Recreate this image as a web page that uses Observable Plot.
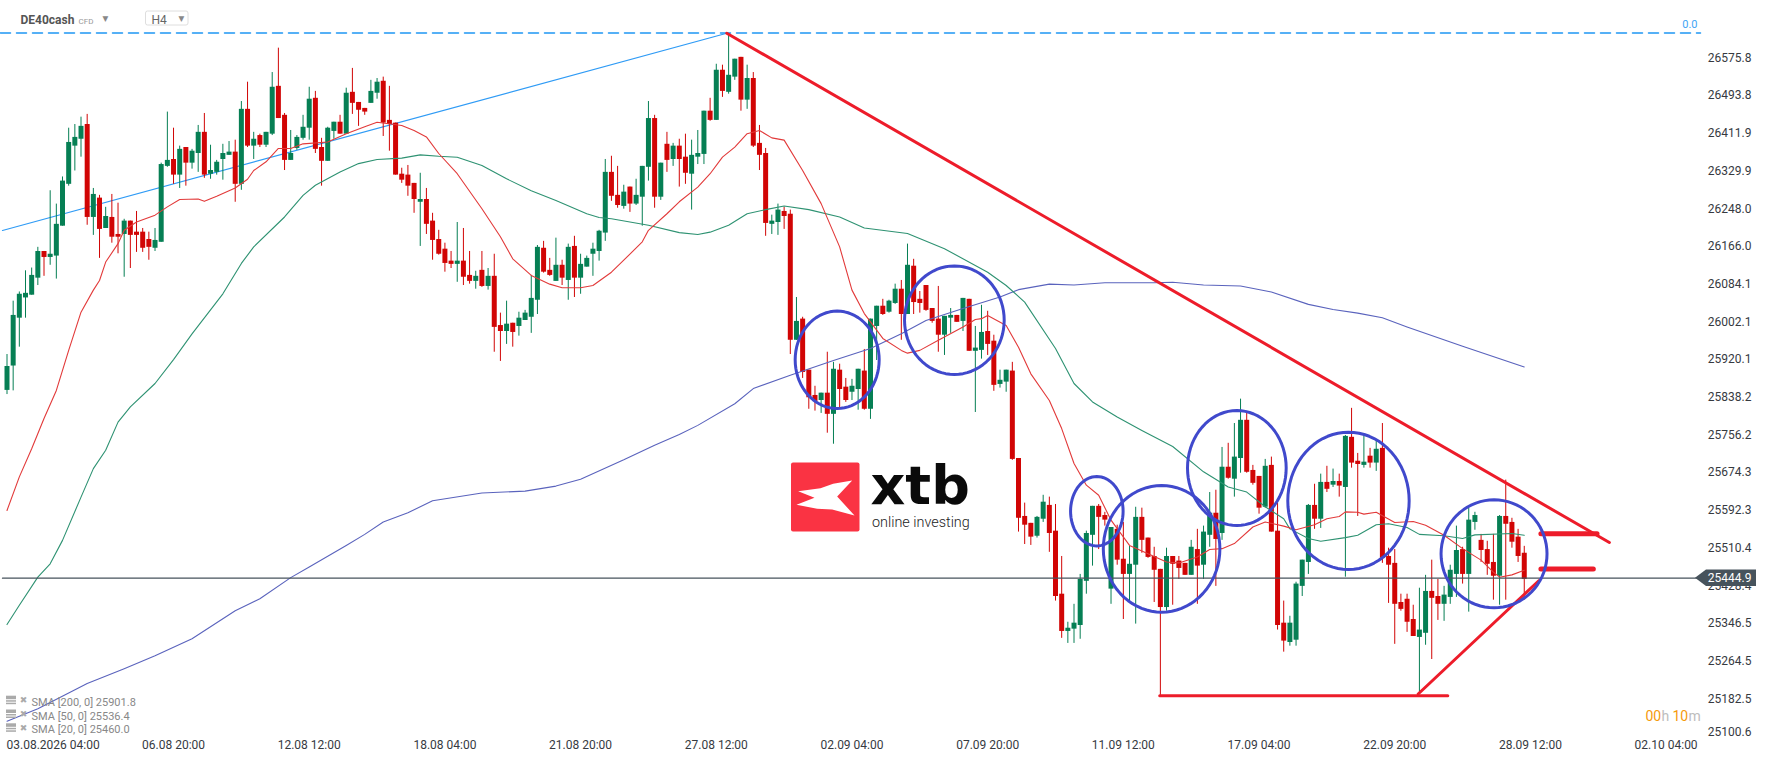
<!DOCTYPE html>
<html><head><meta charset="utf-8">
<script src="https://cdn.jsdelivr.net/npm/d3@7"></script>
<script src="https://cdn.jsdelivr.net/npm/@observablehq/plot@0.6"></script>
<style>html,body{margin:0;padding:0;background:#fff;overflow:hidden}svg{display:block}</style>
</head><body><div id="chart"></div>
<script>
const opens=[25853,25906,26010,26054,26060,26097,26155,26142,26145,26210,
26301,26384,26399,26431,26229,26271,26205,26229,26192,26192,
26221,26197,26197,26181,26162,26175,26340,26355,26321,26381,
26347,26368,26414,26323,26327,26355,26364,26371,26301,26464,
26384,26407,26386,26410,26514,26451,26353,26379,26401,26423,
26488,26381,26351,26416,26436,26410,26501,26479,26466,26477,
26499,26525,26440,26434,26323,26321,26303,26262,26268,26221,
26181,26160,26134,26127,26134,26103,26090,26114,26079,26101,
25994,25981,25999,25992,26005,26012,26049,26162,26114,26090,
26125,26092,26166,26097,26121,26149,26155,26195,26327,26277,
26253,26295,26258,26273,26338,26444,26273,26388,26355,26384,
26360,26323,26360,26366,26460,26440,26549,26501,26534,26577,
26484,26531,26390,26368,26214,26218,26242,26236,25962,26008,
25897,25842,25831,25847,25801,25897,25860,25849,25855,25895,
25812,25992,26036,26023,26042,26073,26018,26123,26051,26081,
26031,26008,25973,26010,26016,26003,26051,25938,25940,25981,
25960,25866,25871,25895,25705,25579,25564,25536,25573,25603,
25547,25410,25329,25334,25342,25438,25538,25601,25581,25421,
25551,25486,25453,25473,25577,25532,25492,25464,25381,25492,
25482,25477,25451,25507,25473,25538,25586,25542,25686,25660,
25705,25788,25679,25666,25599,25690,25547,25347,25305,25310,
25427,25479,25603,25573,25653,25647,25655,25642,25751,25699,
25690,25710,25695,25727,25492,25477,25392,25399,25355,25316,
25325,25416,25405,25388,25403,25453,25507,25453,25566,25527,
25507,25479,25449,25579,25566,25534,25499];
const highs=[25931,26047,26067,26113,26119,26164,26155,26287,26258,26317,
26423,26431,26447,26453,26292,26277,26251,26279,26260,26225,
26221,26242,26205,26197,26205,26347,26458,26423,26384,26381,
26377,26429,26455,26386,26353,26388,26394,26397,26481,26523,
26414,26410,26414,26544,26597,26455,26418,26407,26451,26512,
26503,26401,26425,26436,26451,26510,26553,26479,26466,26527,
26531,26534,26514,26434,26336,26342,26303,26325,26292,26238,
26201,26173,26155,26218,26205,26155,26112,26155,26118,26149,
26021,26047,25999,26023,26027,26103,26168,26177,26140,26184,
26136,26171,26188,26149,26145,26173,26201,26355,26362,26340,
26299,26295,26312,26340,26481,26451,26347,26414,26390,26399,
26410,26397,26418,26460,26488,26562,26560,26629,26573,26577,
26560,26544,26429,26379,26234,26258,26251,26245,26055,26012,
25897,25862,25847,25936,25914,25910,25879,25877,25899,25942,
26008,26036,26051,26049,26084,26092,26171,26138,26068,26081,
26031,26079,26014,26031,26016,26053,26051,25992,26038,26025,
25973,25897,25897,25914,25705,25608,25564,25579,25625,25621,
25605,25492,25349,25388,25453,25547,25601,25605,25588,25555,
25560,25566,25514,25599,25597,25532,25512,25464,25510,25492,
25492,25477,25527,25551,25558,25631,25636,25729,25738,25781,
25834,25805,25690,25666,25703,25708,25608,25395,25362,25436,
25484,25605,25649,25671,25688,25682,25671,25755,25814,25716,
25757,25727,25745,25781,25510,25507,25410,25410,25386,25423,
25451,25484,25442,25427,25473,25558,25512,25597,25588,25540,
25525,25540,25581,25658,25575,25551,25514];
const lows=[25844,25852,25947,26010,26060,26081,26101,26125,26095,26210,
26297,26330,26360,26212,26190,26140,26205,26173,26150,26099,
26118,26153,26153,26136,26155,26175,26338,26301,26292,26297,
26334,26327,26314,26312,26321,26310,26364,26262,26288,26381,
26355,26381,26381,26407,26444,26331,26353,26375,26397,26397,
26368,26297,26351,26399,26410,26410,26453,26427,26451,26477,
26486,26405,26373,26321,26303,26275,26238,26166,26192,26136,
26147,26110,26118,26088,26081,26084,26073,26077,26071,25936,
25916,25953,25947,25971,26005,25977,26018,26108,26101,26090,
26081,26049,26055,26062,26121,26101,26134,26177,26264,26249,
26247,26240,26255,26210,26308,26249,26266,26327,26340,26295,
26301,26245,26344,26344,26438,26440,26490,26497,26527,26460,
26464,26381,26331,26188,26192,26190,26203,25931,25962,25879,
25812,25808,25803,25760,25736,25814,25827,25831,25810,25810,
25790,25918,26016,26021,26040,25962,26018,26018,26021,26025,
25999,25936,25929,25977,26001,25981,25938,25805,25921,25929,
25851,25858,25849,25701,25545,25518,25516,25532,25566,25501,
25395,25314,25303,25303,25312,25410,25471,25507,25558,25388,
25473,25355,25390,25345,25499,25488,25392,25190,25373,25386,
25442,25451,25451,25388,25442,25512,25427,25527,25660,25621,
25673,25673,25647,25584,25597,25545,25332,25284,25297,25297,
25405,25453,25551,25553,25631,25642,25621,25447,25684,25579,
25684,25684,25677,25477,25390,25301,25373,25327,25318,25197,
25299,25268,25353,25351,25388,25403,25432,25371,25549,25479,
25451,25397,25386,25397,25510,25479,25397];
const closes=[25905,26016,26062,26064,26103,26155,26142,26149,26214,26308,
26392,26403,26427,26229,26279,26203,26231,26186,26186,26221,
26190,26190,26162,26164,26179,26344,26353,26321,26377,26347,
26373,26414,26321,26331,26349,26368,26371,26301,26464,26384,
26399,26386,26414,26512,26444,26353,26368,26403,26425,26486,
26377,26351,26423,26436,26410,26499,26477,26462,26458,26503,
26523,26434,26431,26321,26310,26297,26268,26268,26214,26179,
26149,26129,26127,26134,26099,26090,26101,26079,26101,25990,
25981,25997,25979,26010,26021,26053,26164,26110,26103,26125,
26097,26164,26097,26127,26140,26160,26199,26327,26275,26255,
26284,26258,26277,26340,26444,26273,26347,26353,26384,26355,
26325,26364,26368,26460,26440,26549,26503,26538,26573,26484,
26531,26384,26364,26216,26221,26245,26231,25962,26003,25892,
25837,25829,25847,25801,25899,25855,25831,25862,25899,25812,
26008,26036,26018,26047,26073,26018,26125,26044,26042,26027,
26003,25973,26014,26016,26001,26053,25938,25945,25979,25953,
25864,25875,25897,25703,25575,25560,25534,25577,25610,25542,
25405,25329,25336,25347,25442,25542,25601,25577,25571,25555,
25484,25453,25475,25577,25527,25490,25462,25381,25492,25475,
25466,25451,25512,25471,25545,25586,25529,25686,25662,25708,
25788,25675,25651,25597,25688,25545,25342,25308,25347,25432,
25484,25603,25573,25653,25638,25655,25645,25753,25695,25692,
25697,25695,25725,25488,25473,25388,25377,25349,25318,25332,
25416,25401,25388,25408,25462,25505,25453,25571,25581,25505,
25475,25449,25579,25562,25523,25492,25442];

const sma20Index=[0,2,4,6,8,10,12,14,15,16,18,19,21,24,26,28,31,32,34,37,39,40,42,44,46,48,52,55,58,60,64,66,68,70,73,77,80,82,85,88,90,93,95,98,100,103,104,107,109,112,114,116,118,120,122,124,126,129,132,135,137,139,142,145,146,148,151,155,157,158,159,162,164,166,169,171,173,175,177,179,182,185,188,190,193,195,197,199,202,204,207,209,212,214,216,217,219,220,222,225,228,230,233,236,239,241,242,244,246];
const sma20Value=[25592,25665,25726,25792,25853,25940,26023,26071,26092,26132,26172,26201,26219,26234,26252,26268,26269,26264,26275,26293,26312,26331,26350,26379,26379,26389,26393,26411,26426,26436,26429,26418,26404,26368,26324,26248,26187,26139,26103,26084,26076,26076,26081,26110,26136,26176,26201,26237,26263,26295,26324,26360,26382,26411,26418,26402,26397,26331,26259,26165,26071,26020,25966,25940,25934,25940,25962,25991,26007,26009,26016,25994,25947,25889,25831,25770,25694,25647,25625,25571,25516,25498,25480,25478,25491,25507,25509,25520,25556,25567,25558,25550,25561,25574,25579,25589,25588,25584,25588,25566,25568,25560,25538,25509,25484,25458,25447,25452,25462];
const sma50Index=[0,2,5,7,9,12,14,16,18,20,24,27,30,35,38,40,45,48,50,54,57,60,64,67,70,73,77,81,85,89,94,96,98,104,109,112,114,117,120,123,126,130,135,139,146,152,159,162,165,170,173,176,180,184,189,194,198,201,204,207,208,211,213,217,219,222,224,227,229,233,236,238,244,246];
const sma50Value=[25344,25386,25447,25476,25527,25621,25683,25723,25784,25817,25868,25920,25976,26063,26129,26165,26230,26277,26299,26328,26346,26355,26358,26365,26362,26360,26342,26313,26287,26266,26237,26229,26226,26212,26196,26192,26197,26212,26237,26246,26254,26246,26230,26206,26194,26161,26110,26081,26045,25944,25868,25828,25795,25766,25731,25676,25643,25632,25600,25574,25552,25531,25525,25533,25538,25561,25563,25555,25540,25537,25531,25539,25542,25538];
const sma200Index=[0,5,10,13,19,24,30,37,41,46,49,55,58,61,65,69,77,84,89,93,100,105,109,112,118,121,127,134,140,145,149,155,161,164,169,173,178,186,189,194,200,205,211,215,219,223,227,236,246];
const sma200Value=[25134,25161,25195,25216,25248,25276,25313,25374,25400,25446,25469,25516,25540,25567,25587,25613,25630,25634,25645,25660,25702,25734,25757,25777,25824,25857,25886,25918,25944,25976,26005,26031,26056,26072,26084,26082,26087,26087,26088,26082,26080,26067,26040,26029,26021,26011,25991,25949,25904];

const priceTicks=[26575.8,26493.8,26411.9,26329.9,26248.0,26166.0,26084.1,26002.1,25920.1,25838.2,25756.2,25674.3,25592.3,25510.4,25428.4,25346.5,25264.5,25182.5];
const lowestTickLabel="25100.6";
const timeTicks=[5,27,49,71,93,115,137,159,181,203,225,247,269];
const timeLabels=["03.08.2026 04:00","06.08 20:00","12.08 12:00","18.08 04:00","21.08 20:00","27.08 12:00","02.09 04:00","07.09 20:00","11.09 12:00","17.09 04:00","22.09 20:00","28.09 12:00","02.10 04:00"];
const currentPrice=25444.9, fibLevel=26630;
const legendLabels=["SMA [200, 0] 25901.8","SMA [50, 0] 25536.4","SMA [20, 0] 25460.0"];

const ellipseIndex=[134.6,153.6,176.7,187.2,199.4,217.5,241.1];
const ellipseIndexRadius=[6.81,8.08,4.26,9.45,8,9.84,8.59];
const ellipsePrice=[25919.5,26005.6,25590.4,25508.6,25684.3,25613,25497.8];
const ellipsePriceRadius=[105.9,118,75.4,137.6,125,149.3,117.4];

const W=1768,H=761,xDomain=[-1.054,285.6],yDomain=[25046.3,26700.6];
const X=d3.scaleLinear([0,W],xDomain), Y=d3.scaleLinear([H,0],yDomain);

const candles=opens.map((o,i)=>({i,o,h:highs[i],l:lows[i],c:closes[i]}));
const series=(xs,ys)=>xs.map((x,k)=>({x,y:ys[k]}));
const angles=d3.range(0,360,5).map(d=>d*Math.PI/180);
const ellipses=ellipseIndex.flatMap((c,e)=>angles.map(a=>({e,x:c+ellipseIndexRadius[e]*Math.cos(a),y:ellipsePrice[e]+ellipsePriceRadius[e]*Math.sin(a)})));

const GREEN="#067f54",RED="#d10505",TREND="#ed1c2a",CIRCLE="#4049cc",TXT="#363a3f",DARK="#47535c";
const seg=(x1,y1,x2,y2,sw,stroke=TREND)=>Plot.line([{x:x1,y:y1},{x:x2,y:y2}],{x:"x",y:"y",stroke,strokeWidth:sw});
const label=(px,py,text,opt={})=>Plot.text([text],{x:X(px),y:Y(py),text:d=>d,fontSize:12,fill:TXT,...opt});
const box=(x1,y1,x2,y2,fill)=>Plot.rect([0],{x1:X(x1),x2:X(x2),y1:Y(y1),y2:Y(y2),fill});

const logoX=[83,150,188,245,200,252,185,140,78,132], logoY=[152,143,130,120,168,225,207,205,193,172];
const logoPts=logoX.map((x,k)=>({x:X(770+x/3),y:Y(440+logoY[k]/3)}));

const marks=[
  Plot.line([{x:X(0),y:fibLevel},{x:X(1700),y:fibLevel}],{x:"x",y:"y",stroke:"#1e96f3",strokeWidth:1.5,strokeDasharray:"10,6"}),
  seg(-0.73,26200.6,116.7,26629.5,1.2,"#2f9bf5"),
  Plot.ruleX(candles,{x:"i",y1:"l",y2:"h",stroke:d=>d.c>=d.o?GREEN:RED,strokeWidth:1}),
  Plot.ruleX(candles,{x:"i",y1:d=>Math.min(d.o,d.c),y2:d=>Math.max(d.o,d.c),stroke:d=>d.c>=d.o?GREEN:RED,strokeWidth:5}),
  Plot.line(series(sma200Index,sma200Value),{x:"x",y:"y",stroke:"#5a63bd",strokeWidth:1.1}),
  Plot.line(series(sma50Index,sma50Value),{x:"x",y:"y",stroke:"#2e9272",strokeWidth:1.1}),
  Plot.line(series(sma20Index,sma20Value),{x:"x",y:"y",stroke:"#e23a3a",strokeWidth:1.1}),
  Plot.line([{x:X(2),y:currentPrice},{x:X(1700),y:currentPrice}],{x:"x",y:"y",stroke:DARK,strokeWidth:1.3}),
  seg(116.7,26629.5,259.8,25522.3,3),
  seg(186.9,25189.3,233.6,25189.3,3),
  seg(228.8,25193,248.4,25439.7,3),
  seg(248.7,25541.2,257.8,25541.2,5),
  seg(248.7,25465,257.2,25465,5),
  Plot.line(ellipses,{x:"x",y:"y",z:"e",stroke:CIRCLE,strokeWidth:3,curve:"linear-closed"}),
  Plot.rect([0],{x1:X(791),x2:X(859.5),y1:Y(462.5),y2:Y(531.5),fill:"#fa3343",r:2}),
  Plot.line(logoPts,{x:"x",y:"y",fill:"#fff",stroke:"none",curve:"linear-closed"}),
  label(870,486,"xtb",{fontSize:54,fontWeight:700,fill:"#0a0a0a",textAnchor:"start",fontFamily:"DejaVu Sans"}),
  label(871.5,521.5,"online investing",{fontSize:14.4,fontWeight:300,fill:"#222",textAnchor:"start"}),
  Plot.text(priceTicks,{x:X(1751),y:d=>d,text:d=>d.toFixed(1),fontSize:12,fill:TXT,textAnchor:"end"}),
  label(1751,731.7,lowestTickLabel,{textAnchor:"end"}),
  Plot.areaY([{x:X(1695),a:currentPrice,b:currentPrice},{x:X(1706),a:Y(569.5),b:Y(586)},{x:X(1756),a:Y(569.5),b:Y(586)}],{x:"x",y1:"a",y2:"b",fill:DARK}),
  Plot.text([currentPrice],{x:X(1751),y:d=>d,text:d=>d.toFixed(1),fontSize:12,fill:"#fff",textAnchor:"end"}),
  label(1697,24,"0.0",{fontSize:11,fill:"#42a5f5",textAnchor:"end"}),
  Plot.text(timeTicks.slice(1),{x:d=>d,y:Y(744.3),text:(d,k)=>timeLabels[k+1],fontSize:12,fill:TXT}),
  label(6,744.3,timeLabels[0],{textAnchor:"start"}),
  label(1645,716,"00",{fontSize:14,fill:"#f59a0c",textAnchor:"start"}),
  label(1661,716,"h",{fontSize:14,fill:"#bdbdbd",textAnchor:"start"}),
  label(1672,716,"10",{fontSize:14,fill:"#f59a0c",textAnchor:"start"}),
  label(1688,716,"m",{fontSize:14,fill:"#bdbdbd",textAnchor:"start"}),
  ...legendLabels.flatMap((t,k)=>{const py=701.7+k*13.8;return [
    label(31,py,t,{fontSize:11,fill:"#888",textAnchor:"start"}),
    box(6,py-6,16,py-2.5,"#aaa"),
    box(6,py-1.5,16,py,"#aaa"),
    box(6,py+1,16,py+2.5,"#aaa"),
    label(23,py-2,"✖",{fontSize:9,fill:"#aaa",fontFamily:"DejaVu Sans"})];}),
  label(20,19.5,"DE40cash",{fontSize:12,fontWeight:700,fill:"#555",textAnchor:"start"}),
  label(78,20.5,"CFD",{fontSize:8,fill:"#999",textAnchor:"start"}),
  label(105,18,"▼",{fontSize:7.5,fill:"#888",fontFamily:"DejaVu Sans"}),
  Plot.rect([0],{x1:X(145.5),x2:X(188),y1:Y(25),y2:Y(11),fill:"none",stroke:"#dedede",r:2}),
  label(151,20,"H4",{fontSize:12,fill:"#666",textAnchor:"start"}),
  label(181,18,"▼",{fontSize:7.5,fill:"#888",fontFamily:"DejaVu Sans"})
];

document.getElementById("chart").append(Plot.plot({
  width:W,height:H,margin:0,
  x:{type:"linear",domain:xDomain,range:[0,W],axis:null},
  y:{type:"linear",domain:yDomain,range:[H,0],axis:null},
  style:{fontFamily:"Roboto",background:"#fff",color:TXT,overflow:"hidden"},
  marks
}));
</script></body></html>
